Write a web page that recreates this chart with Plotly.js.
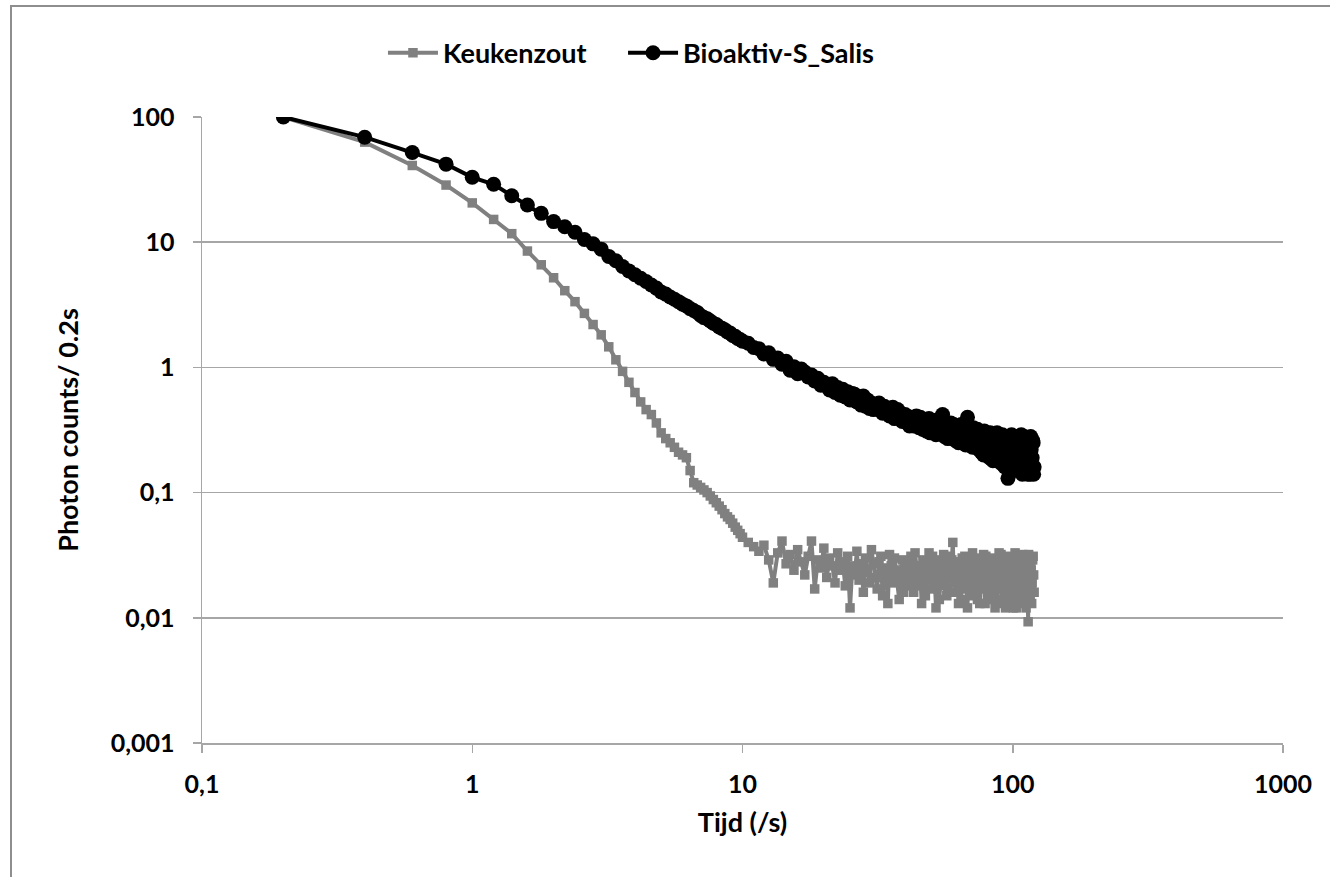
<!DOCTYPE html>
<html>
<head>
<meta charset="utf-8">
<script src="https://cdn.plot.ly/plotly-3.0.1.min.js"></script>
<style>
  html, body { margin: 0; padding: 0; background: #fff; }
  #chart { position: absolute; left: 0; top: 0; width: 1330px; height: 877px; }
  #frame { position: absolute; left: 10px; top: 5px; width: 1400px; height: 1000px;
           border-left: 2px solid #8e8e8e; border-top: 2px solid #8e8e8e; pointer-events: none; }
</style>
</head>
<body>
<div id="chart"></div>
<div id="frame"></div>
<script>
// Time (s)
const tijd = [
  0.2,0.4,0.6,0.8,1.0,1.2,1.4,1.6,1.8,2.0,2.2,2.4,2.6,2.8,3.0,3.2,3.4,3.6,3.8,4.0,
  4.2,4.4,4.6,4.8,5.0,5.2,5.4,5.6,5.8,6.0,6.2,6.4,6.6,6.8,7.0,7.2,7.4,7.6,7.8,8.0,
  8.2,8.4,8.6,8.8,9.0,9.2,9.4,9.6,9.8,10.0,
  10.5,11,11.5,12,12.5,13,13.5,14,14.5,15,15.5,16,16.5,17,17.5,18,18.5,19,19.5,20,
  20.5,21,21.5,22,22.5,23,23.5,24,24.5,25,25.5,26,26.5,27,27.5,28,28.5,29,29.5,30,
  30.5,31,31.5,32,32.5,33,33.5,34,34.5,35,35.5,36,36.5,37,37.5,38,38.5,39,39.5,40,
  40.5,41,41.5,42,42.5,43,43.5,44,44.5,45,45.5,46,46.5,47,47.5,48,48.5,49,49.5,50,
  50.5,51,51.5,52,52.5,53,53.5,54,54.5,55,55.5,56,56.5,57,57.5,58,58.5,59,59.5,60,
  60.5,61,61.5,62,62.5,63,63.5,64,64.5,65,65.5,66,66.5,67,67.5,68,68.5,69,69.5,70,
  70.5,71,71.5,72,72.5,73,73.5,74,74.5,75,75.5,76,76.5,77,77.5,78,78.5,79,79.5,80,
  80.5,81,81.5,82,82.5,83,83.5,84,84.5,85,85.5,86,86.5,87,87.5,88,88.5,89,89.5,90,
  90.5,91,91.5,92,92.5,93,93.5,94,94.5,95,95.5,96,96.5,97,97.5,98,98.5,99,99.5,100,
  100.5,101,101.5,102,102.5,103,103.5,104,104.5,105,105.5,106,106.5,107,107.5,108,108.5,109,109.5,110,
  110.5,111,111.5,112,112.5,113,113.5,114,114.5,115,115.5,116,116.5,117,117.5,118,118.5,119,119.5,120
];

// Keukenzout (photon counts / 0.2 s)
const keukenzout = [
  100,63,41,28.6,20.6,15.2,11.7,8.5,6.6,5.2,4.1,3.35,2.7,2.2,1.82,1.46,1.15,0.93,0.76,0.63,
  0.53,0.46,0.42,0.36,0.30,0.27,0.25,0.23,0.21,0.20,0.19,0.15,0.12,0.115,0.11,0.105,0.10,0.094,0.088,0.083,
  0.078,0.073,0.068,0.064,0.061,0.057,0.053,0.05,0.047,0.044,
  0.040,0.037,0.034,0.038,0.029,0.019,0.033,0.041,0.027,0.032,0.024,0.035,0.028,0.022,0.031,0.041,0.017,0.029,0.025,0.036,
  0.021,0.030,0.026,0.019,0.033,0.024,0.028,0.018,0.031,0.012,0.026,0.022,0.034,0.020,0.027,0.016,0.030,0.023,0.019,0.035,
  0.027,0.021,0.017,0.028,0.031,0.015,0.022,0.025,0.013,0.032,0.026,0.019,0.030,0.024,0.020,0.014,0.024,0.029,0.016,0.022,
  0.027,0.018,0.021,0.031,0.025,0.016,0.033,0.026,0.018,0.020,0.023,0.013,0.029,0.027,0.015,0.023,0.020,0.033,0.026,0.017,
  0.031,0.025,0.019,0.012,0.024,0.029,0.014,0.021,0.027,0.018,0.032,0.026,0.021,0.015,0.017,0.031,0.025,0.022,0.029,0.040,
  0.023,0.019,0.016,0.027,0.028,0.013,0.020,0.024,0.014,0.030,0.025,0.017,0.031,0.022,0.018,0.012,0.023,0.028,0.027,0.020,
  0.015,0.033,0.022,0.016,0.030,0.025,0.019,0.014,0.026,0.029,0.013,0.021,0.028,0.018,0.023,0.032,0.017,0.013,0.031,0.024,
  0.020,0.019,0.014,0.027,0.026,0.015,0.022,0.030,0.017,0.021,0.029,0.012,0.024,0.026,0.013,0.017,0.027,0.033,0.021,0.020,
  0.032,0.014,0.018,0.028,0.025,0.022,0.016,0.012,0.023,0.031,0.028,0.018,0.014,0.024,0.030,0.013,0.019,0.029,0.025,0.020,
  0.012,0.016,0.027,0.033,0.021,0.012,0.031,0.025,0.016,0.019,0.024,0.030,0.028,0.014,0.013,0.023,0.022,0.032,0.019,0.017,
  0.030,0.026,0.015,0.012,0.027,0.021,0.020,0.0093,0.032,0.028,0.018,0.015,0.025,0.024,0.013,0.019,0.029,0.031,0.022,0.016
];

// Bioaktiv-S_Salis (photon counts / 0.2 s)
const bioaktiv = [
  100,69,52,42,33,29,23.5,19.8,17,14.6,13.3,12,10.5,9.7,8.8,7.7,7.1,6.4,5.9,5.5,
  5.15,4.85,4.55,4.3,4.0,3.85,3.65,3.5,3.35,3.2,3.1,2.95,2.85,2.75,2.6,2.5,2.45,2.35,2.25,2.2,
  2.1,2.05,2.0,1.92,1.88,1.8,1.77,1.7,1.67,1.62,
  1.56,1.44,1.41,1.28,1.31,1.16,1.19,1.06,1.12,0.95,1.01,0.89,0.97,0.92,0.84,0.87,0.78,0.82,0.72,0.76,
  0.71,0.66,0.74,0.63,0.69,0.60,0.67,0.58,0.64,0.55,0.62,0.61,0.53,0.57,0.50,0.59,0.49,0.55,0.47,0.52,
  0.46,0.47,0.50,0.52,0.45,0.43,0.49,0.46,0.43,0.41,0.45,0.48,0.39,0.40,0.46,0.44,0.41,0.37,0.38,0.42,
  0.40,0.36,0.34,0.40,0.38,0.34,0.37,0.41,0.36,0.33,0.40,0.38,0.32,0.35,0.37,0.31,0.34,0.39,0.30,0.33,
  0.37,0.36,0.32,0.29,0.38,0.35,0.30,0.31,0.34,0.42,0.31,0.28,0.36,0.34,0.27,0.30,0.33,0.36,0.30,0.27,
  0.35,0.33,0.26,0.29,0.31,0.25,0.28,0.32,0.35,0.28,0.26,0.34,0.30,0.24,0.33,0.40,0.25,0.27,0.31,0.30,
  0.27,0.23,0.33,0.29,0.24,0.26,0.28,0.32,0.25,0.22,0.30,0.28,0.21,0.25,0.27,0.20,0.31,0.30,0.23,0.24,
  0.28,0.27,0.21,0.19,0.30,0.26,0.23,0.29,0.18,0.21,0.27,0.25,0.22,0.18,0.30,0.28,0.19,0.22,0.25,0.26,
  0.20,0.17,0.29,0.24,0.21,0.28,0.16,0.20,0.26,0.23,0.19,0.13,0.27,0.25,0.15,0.19,0.22,0.29,0.17,0.21,
  0.26,0.16,0.19,0.26,0.28,0.20,0.15,0.23,0.25,0.15,0.18,0.27,0.22,0.19,0.29,0.22,0.14,0.17,0.24,0.28,
  0.17,0.20,0.27,0.15,0.21,0.24,0.14,0.18,0.25,0.27,0.19,0.14,0.28,0.22,0.16,0.19,0.26,0.25,0.14,0.16
];

const seriesNames = ['Keukenzout', 'Bioaktiv-S_Salis'];
const xTickVals = [0.1, 1, 10, 100, 1000];
const xTickText = ['0,1', '1', '10', '100', '1000'];
const yTickVals = [0.001, 0.01, 0.1, 1, 10, 100];
const yTickText = ['0,001', '0,01', '0,1', '1', '10', '100'];

const FONT = 'Lato, "Open Sans", sans-serif';
const GRID = '#a6a6a6';

const traces = [
  {
    x: tijd, y: keukenzout, name: seriesNames[0], type: 'scatter', mode: 'lines+markers',
    legend: 'legend',
    line: { color: '#808080', width: 4 },
    marker: { symbol: 'square', size: 9.5, color: '#808080' }
  },
  {
    x: tijd, y: bioaktiv, name: seriesNames[1], type: 'scatter', mode: 'lines+markers',
    legend: 'legend2',
    line: { color: '#000000', width: 4 },
    marker: { symbol: 'circle', size: 15, color: '#000000' }
  }
];

const legendBase = {
  orientation: 'h', xanchor: 'left', y: 1.102, yanchor: 'middle',
  font: { family: FONT, size: 27, color: '#000', weight: 700 },
  itemwidth: 50, bgcolor: 'rgba(0,0,0,0)', borderwidth: 0
};

const layout = {
  width: 1330, height: 877,
  paper_bgcolor: 'rgba(0,0,0,0)', plot_bgcolor: '#ffffff',
  margin: { l: 202, r: 47, t: 117, b: 134 },
  font: { family: FONT, color: '#000', size: 25, weight: 700 },
  showlegend: true,
  legend: Object.assign({}, legendBase, { x: 0.1674 }),
  legend2: Object.assign({}, legendBase, { x: 0.3895 }),
  xaxis: {
    type: 'log', range: [-1, 3],
    tickvals: xTickVals, ticktext: xTickText,
    ticks: 'outside', ticklen: 8, tickwidth: 1.5, tickcolor: GRID,
    showline: true, linecolor: GRID, linewidth: 1.5,
    showgrid: false, zeroline: false, ticklabelstandoff: 10,
    tickfont: { family: FONT, size: 25, color: '#000', weight: 700 },
    title: { text: 'Tijd (/s)', font: { family: FONT, size: 27, color: '#000', weight: 700 }, standoff: 16 }
  },
  yaxis: {
    type: 'log', range: [-3, 2],
    tickvals: yTickVals, ticktext: yTickText,
    ticks: 'outside', ticklen: 8, tickwidth: 1.5, tickcolor: GRID,
    showline: true, linecolor: GRID, linewidth: 1.5, ticklabelstandoff: 13,
    showgrid: true, gridcolor: GRID, gridwidth: 1.5, zeroline: false,
    tickfont: { family: FONT, size: 25, color: '#000', weight: 700 },
    title: { text: 'Photon counts/ 0.2s', font: { family: FONT, size: 27, color: '#000', weight: 700 }, standoff: 24 }
  }
};

Plotly.newPlot('chart', traces, layout, { displayModeBar: false, staticPlot: true });
</script>
</body>
</html>
